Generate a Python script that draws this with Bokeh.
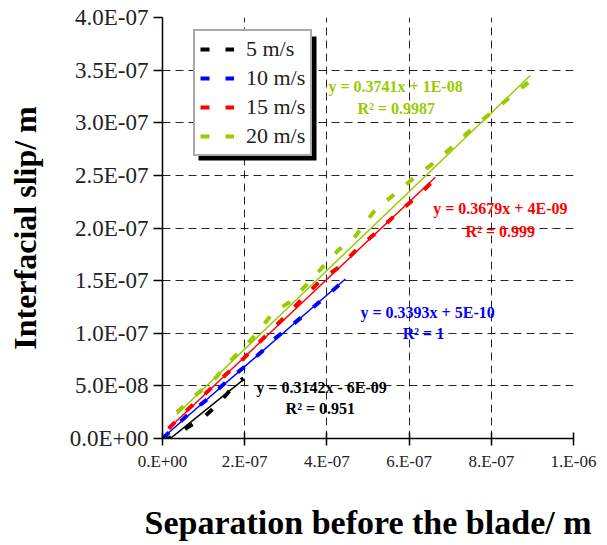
from bokeh.plotting import figure
from bokeh.models import (Range1d, FixedTicker, Legend, LegendItem, BoxAnnotation,
                          CustomJSTickFormatter, ColumnDataSource)
from bokeh.embed import file_html
from bokeh.resources import INLINE
from bokeh.core.properties import value

# ---- data -------------------------------------------------------------
speeds = ["5 m/s", "10 m/s", "15 m/s", "20 m/s"]
colors = ["#000000", "#0000FF", "#FF0000", "#99CC00"]

# separation before the blade (m) vs interfacial slip (m)
sep_5 = [0.0, 0.15e-7, 0.5e-7, 1.0e-7, 1.36e-7, 1.78e-7, 1.97e-7]
slip_5 = [0.0, 0.0, 0.08e-7, 0.20e-7, 0.33e-7, 0.52e-7, 0.57e-7]

sep_10 = [0.0, 0.6e-7, 1.05e-7, 1.53e-7, 2.02e-7, 2.46e-7, 2.7e-7, 3.19e-7,
          3.65e-7, 4.09e-7, 4.45e-7]
slip_10 = [0.0, 0.22e-7, 0.36e-7, 0.53e-7, 0.69e-7, 0.84e-7, 0.94e-7, 1.09e-7,
           1.24e-7, 1.39e-7, 1.51e-7]

sep_15 = [0.15e-7, 0.6e-7, 1.05e-7, 1.55e-7, 1.97e-7, 2.19e-7, 2.55e-7, 2.94e-7,
          3.36e-7, 3.84e-7, 4.3e-7, 4.82e-7, 5.3e-7, 5.74e-7, 6.23e-7, 6.64e-7]
slip_15 = [0.095e-7, 0.27e-7, 0.43e-7, 0.61e-7, 0.76e-7, 0.85e-7, 0.99e-7, 1.14e-7,
           1.31e-7, 1.50e-7, 1.63e-7, 1.83e-7, 1.99e-7, 2.15e-7, 2.31e-7, 2.47e-7]

sep_20 = [0.35e-7, 0.8e-7, 1.24e-7, 1.6e-7, 2.07e-7, 2.4e-7, 2.7e-7, 3.07e-7,
          3.48e-7, 3.9e-7, 4.28e-7, 4.65e-7, 5.13e-7, 5.67e-7, 6.1e-7, 6.57e-7,
          7.08e-7, 7.49e-7, 7.98e-7, 8.42e-7, 8.95e-7]
slip_20 = [0.25e-7, 0.41e-7, 0.55e-7, 0.72e-7, 0.90e-7, 1.05e-7, 1.20e-7, 1.29e-7,
           1.45e-7, 1.63e-7, 1.79e-7, 1.90e-7, 2.15e-7, 2.33e-7, 2.47e-7, 2.61e-7,
           2.78e-7, 2.93e-7, 3.09e-7, 3.23e-7, 3.40e-7]

# linear trendlines y = slope * x + intercept
slopes = [0.3142, 0.3393, 0.3679, 0.3741]
intercepts = [-6e-9, 5e-10, 4e-9, 1e-8]
eq_labels = ["y = 0.3142x - 6E-09", "y = 0.3393x + 5E-10",
             "y = 0.3679x + 4E-09", "y = 0.3741x + 1E-08"]
r2_labels = ["R\u00b2 = 0.951", "R\u00b2 = 1", "R\u00b2 = 0.999", "R\u00b2 = 0.9987"]

# label anchor positions (data units)
eq_x = [3.87e-7, 6.45e-7, 8.22e-7, 5.67e-7]
eq_y = [0.485e-7, 1.197e-7, 2.185e-7, 3.344e-7]
r2_x = [3.84e-7, 6.35e-7, 8.22e-7, 5.69e-7]
r2_y = [0.285e-7, 0.998e-7, 1.967e-7, 3.135e-7]

x_ticks = [0, 2e-7, 4e-7, 6e-7, 8e-7, 1e-6]
x_tick_labels = ["0.E+00", "2.E-07", "4.E-07", "6.E-07", "8.E-07", "1.E-06"]
y_ticks = [0, 0.5e-7, 1.0e-7, 1.5e-7, 2.0e-7, 2.5e-7, 3.0e-7, 3.5e-7, 4.0e-7]
y_tick_labels = ["0.0E+00", "5.0E-08", "1.0E-07", "1.5E-07", "2.0E-07",
                 "2.5E-07", "3.0E-07", "3.5E-07", "4.0E-07"]

series_x = [sep_5, sep_10, sep_15, sep_20]
series_y = [slip_5, slip_10, slip_15, slip_20]

SERIF = "Liberation Serif"

# ---- figure -----------------------------------------------------------
p = figure(width=607, height=545,
           x_range=Range1d(0, 1e-6), y_range=Range1d(0, 4e-7),
           output_backend="svg", toolbar_location=None,
           min_border_left=162, min_border_right=34,
           min_border_top=17, min_border_bottom=107)
p.outline_line_color = None
p.background_fill_color = "white"
p.border_fill_color = "white"

for g in (p.xgrid, p.ygrid):
    g.grid_line_color = "#000000"
    g.grid_line_dash = "8 5"
    g.grid_line_width = 1
    g.grid_line_alpha = 0.85

p.xaxis.ticker = FixedTicker(ticks=x_ticks)
p.yaxis.ticker = FixedTicker(ticks=y_ticks)
p.xaxis.formatter = CustomJSTickFormatter(args=dict(labels=x_tick_labels),
                                          code="return labels[index];")
p.yaxis.formatter = CustomJSTickFormatter(args=dict(labels=y_tick_labels),
                                          code="return labels[index];")

for ax in (p.xaxis, p.yaxis):
    ax.axis_line_color = "black"
    ax.axis_line_width = 1.5
    ax.major_tick_line_color = "black"
    ax.major_tick_line_width = 1.5
    ax.minor_tick_line_color = None
    ax.major_label_text_font = SERIF
    ax.major_label_text_color = "#222222"
    ax.axis_label_text_font = SERIF
    ax.axis_label_text_font_style = "bold"
    ax.axis_label_text_color = "black"

p.xaxis.major_tick_in = 6
p.xaxis.major_tick_out = 7
p.yaxis.major_tick_in = 0
p.yaxis.major_tick_out = 9
p.xaxis.major_label_text_font_size = "17px"
p.yaxis.major_label_text_font_size = "23px"
p.xaxis.major_label_standoff = 6
p.yaxis.major_label_standoff = 5
p.xaxis.axis_label = "Separation before the blade/ m"
p.yaxis.axis_label = "Interfacial slip/ m"
p.xaxis.axis_label_text_font_size = "34px"
p.yaxis.axis_label_text_font_size = "32px"
p.xaxis.axis_label_standoff = 30
p.yaxis.axis_label_standoff = 24

# ---- measured data and trendlines --------------------------------------
data_renderers = []
for xs, ys, s, b, c in zip(series_x, series_y, slopes, intercepts, colors):
    x0, x1 = min(xs), max(xs)
    p.line([x0, x1], [s * x0 + b, s * x1 + b], line_color=c, line_width=1.5)
    r = p.line(xs, ys, line_color=c, line_width=4, line_dash="9 16")
    data_renderers.append(r)

labels_src = ColumnDataSource(dict(x=eq_x + r2_x, y=eq_y + r2_y,
                                   text=eq_labels + r2_labels,
                                   color=colors + colors))
p.text(x="x", y="y", text="text", source=labels_src, text_color="color",
       text_font=value(SERIF), text_font_style="bold", text_font_size="16px",
       text_align="center", text_baseline="middle")

# ---- legend with drop shadow ------------------------------------------
def fx(px):
    return (px - 162) / 411 * 1e-6


def fy(py):
    return (438 - py) / 421 * 4e-7


shadow = BoxAnnotation(left=fx(198), right=fx(316), top=fy(36), bottom=fy(160),
                       fill_color="black", fill_alpha=1, line_color=None)
p.add_layout(shadow)

legend = Legend(items=[LegendItem(label=lab, renderers=[r])
                       for lab, r in zip(speeds, data_renderers)],
                location=(31, 282))
legend.border_line_color = "#555555"
legend.border_line_width = 2
legend.background_fill_color = "white"
legend.background_fill_alpha = 1
legend.glyph_width = 34
legend.glyph_height = 20
legend.label_height = 20
legend.label_standoff = 12
legend.label_text_font = SERIF
legend.label_text_font_size = "22px"
legend.label_text_color = "#222222"
legend.spacing = 3
legend.padding = 5
legend.margin = 0
p.add_layout(legend)

open("out.html", "w").write(file_html(p, INLINE))
